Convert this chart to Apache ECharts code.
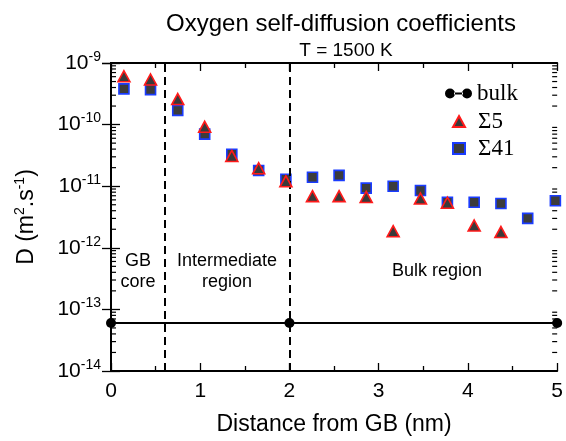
<!DOCTYPE html>
<html>
<head>
<meta charset="utf-8">
<script src="https://cdn.jsdelivr.net/npm/echarts@6/dist/echarts.min.js"></script>
<style>
  html, body { margin: 0; padding: 0; background: #fff; }
  #chart { width: 566px; height: 441px; }
</style>
</head>
<body>
<div id="chart"></div>
<script>
// Distance of each oxygen layer from the grain boundary plane (nm)
const distance = [0.145, 0.443, 0.748, 1.05, 1.354, 1.655, 1.96, 2.258, 2.556, 2.86,
                  3.162, 3.468, 3.77, 4.07, 4.37, 4.67, 4.98];
// Self-diffusion coefficients D (m^2/s) per layer
const sigma5 = [6.1e-10, 5.4e-10, 2.6e-10, 9.2e-11, 3.1e-11, 1.95e-11, 1.2e-11, 6.9e-12,
                6.9e-12, 6.7e-12, 1.86e-12, 6.3e-12, 5.4e-12, 2.3e-12, 1.8e-12, null, null];
const sigma41 = [3.8e-10, 3.7e-10, 1.7e-10, 7.0e-11, 3.3e-11, 1.8e-11, 1.3e-11, 1.4e-11,
                 1.5e-11, 9.3e-12, 1.0e-11, 8.5e-12, 5.5e-12, 5.5e-12, 5.25e-12, 3.0e-12, 5.8e-12];
// Bulk reference value
const bulkX = [0, 2, 5];
const bulkD = 6.0e-14;
// Region boundaries (nm)
const boundaries = [0.6, 2];
// Axis ranges
const xTicks = [0, 1, 2, 3, 4, 5];
const yMinExp = -14, yMaxExp = -9;

const SANS = '"Liberation Sans", Arial, Helvetica, sans-serif';
const SERIF = '"Liberation Serif", "Times New Roman", serif';

const pairs = (xs, ys) => xs.map((x, i) => [x, ys[i]]).filter(p => p[1] != null);

// log-axis minor tick positions (2..9 x 10^k)
const minorVals = [];
for (let e = yMinExp; e < yMaxExp; e++) {
  for (let m = 2; m <= 9; m++) minorVals.push([xTicks[0], m * Math.pow(10, e)]);
}

const chart = echarts.init(document.getElementById('chart'), null, { renderer: 'canvas' });

const axisLine = { show: true, lineStyle: { color: '#000', width: 2 } };
const xBase = {
  type: 'value', min: xTicks[0], max: xTicks[xTicks.length - 1], interval: 1,
  axisLine: axisLine,
  axisTick: { show: true, inside: true, length: 8, lineStyle: { color: '#000', width: 1.3 } },
  minorTick: { show: true, splitNumber: 2, length: 5, lineStyle: { color: '#000', width: 1.3 } },
  splitLine: { show: false }, minorSplitLine: { show: false }
};
const yBase = {
  type: 'log', logBase: 10, min: Math.pow(10, yMinExp), max: Math.pow(10, yMaxExp),
  axisLine: axisLine,
  axisTick: { show: true, inside: true, length: 9, lineStyle: { color: '#000', width: 1.3 } },
  splitLine: { show: false }
};

const legendText = {
  color: '#000',
  fontFamily: SERIF, fontSize: 23, lineHeight: 22
};

const option = {
  backgroundColor: '#fff',
  animation: false,
  title: [
    { text: 'Oxygen self-diffusion coefficients', left: 336, top: 7, textAlign: 'center',
      textStyle: { fontFamily: SANS, fontSize: 24, fontWeight: 'normal', color: '#000' } },
    { text: 'T = 1500 K', left: 341, top: 36, textAlign: 'center',
      textStyle: { fontFamily: SANS, fontSize: 19, fontWeight: 'normal', color: '#000' } }
  ],
  grid: { left: 111, right: 7, top: 63, bottom: 63, containLabel: false },
  legend: [
    {
      orient: 'vertical', left: 440, top: 77, itemWidth: 27, itemHeight: 10,
      selectedMode: false,
      data: [{ name: 'bulk', icon: 'path://M0,5a5,5 0 1,0 10,0a5,5 0 1,0 -10,0ZM17,5a5,5 0 1,0 10,0a5,5 0 1,0 -10,0ZM9,4L18,4L18,6L9,6Z' }],
      textStyle: legendText
    },
    {
      orient: 'vertical', left: 447, top: 105, itemGap: 4, itemWidth: 12, itemHeight: 11,
      selectedMode: false,
      data: ['Σ5', 'Σ41'],
      formatter: n => '{g|' + n + '}',
      textStyle: {
        color: '#000',
        rich: { g: Object.assign({}, legendText, { padding: [0, 0, 0, 8] }) }
      }
    }
  ],
  xAxis: [
    Object.assign({}, xBase, {
      position: 'bottom',
      axisLabel: { show: true, fontFamily: SANS, fontSize: 21, color: '#000', margin: 10 },
      name: 'Distance from GB (nm)', nameLocation: 'middle', nameGap: 42,
      nameTextStyle: { fontFamily: SANS, fontSize: 23, color: '#000' }
    }),
    Object.assign({}, xBase, { position: 'top', axisLabel: { show: false } })
  ],
  yAxis: [
    Object.assign({}, yBase, {
      position: 'left',
      axisLabel: {
        show: true, margin: 10,
        formatter: v => '{b|10}{e|' + Math.round(Math.log10(v)) + '}',
        rich: {
          b: { fontFamily: SANS, fontSize: 21, color: '#000' },
          e: { fontFamily: SANS, fontSize: 14, color: '#000', padding: [0, 0, 12, 0] }
        }
      },
      name: '{a|D (m}{s|2}{a|.s}{s|-1}{a|)}', nameLocation: 'middle', nameRotate: 90, nameGap: 70,
      nameTextStyle: {
        rich: {
          a: { fontFamily: SANS, fontSize: 23, color: '#000' },
          s: { fontFamily: SANS, fontSize: 14, color: '#000', padding: [0, 0, 14, 0] }
        }
      }
    }),
    Object.assign({}, yBase, { position: 'right', axisLabel: { show: false } })
  ],
  graphic: [
    { type: 'text', x: 138, y: 272, style: { text: 'GB\ncore', fontFamily: SANS, fontSize: 18, lineHeight: 21, fill: '#000', align: 'center', verticalAlign: 'middle' } },
    { type: 'text', x: 227, y: 272, style: { text: 'Intermediate\nregion', fontFamily: SANS, fontSize: 18, lineHeight: 21, fill: '#000', align: 'center', verticalAlign: 'middle' } },
    { type: 'text', x: 437, y: 271, style: { text: 'Bulk region', fontFamily: SANS, fontSize: 18, fill: '#000', align: 'center', verticalAlign: 'middle' } }
  ],
  series: [
    {
      name: 'bulk', type: 'line', data: bulkX.map(x => [x, bulkD]),
      symbol: 'circle', symbolSize: 10, clip: false, z: 3,
      itemStyle: { color: '#000' }, lineStyle: { color: '#000', width: 2 },
      markLine: {
        silent: true, symbol: 'none', label: { show: false },
        lineStyle: { color: '#000', width: 2, type: [8, 5] },
        data: boundaries.map(b => ({ xAxis: b }))
      }
    },
    {
      name: 'Σ41', type: 'scatter', data: pairs(distance, sigma41),
      symbol: 'rect', symbolSize: 10, z: 4,
      itemStyle: { color: '#3c3c3c', borderColor: '#1a3cff', borderWidth: 1.6, opacity: 1 }
    },
    {
      name: 'Σ5', type: 'scatter', data: pairs(distance, sigma5),
      symbol: 'triangle', symbolSize: [12, 11], z: 5,
      itemStyle: { color: '#3a3a3a', borderColor: '#ff1a1a', borderWidth: 1.6, opacity: 1 }
    },
    {
      name: 'minorTicks', type: 'custom', data: minorVals, silent: true, clip: false, z: 2,
      renderItem: (params, api) => {
        const v = api.value(1);
        const pl = api.coord([xTicks[0], v]);
        const pr = api.coord([xTicks[xTicks.length - 1], v]);
        const st = { stroke: '#000', lineWidth: 1.2 };
        return {
          type: 'group',
          children: [
            { type: 'line', shape: { x1: pl[0], y1: pl[1], x2: pl[0] + 5, y2: pl[1] }, style: st },
            { type: 'line', shape: { x1: pr[0] - 5, y1: pr[1], x2: pr[0], y2: pr[1] }, style: st }
          ]
        };
      }
    }
  ]
};

chart.setOption(option);
</script>
</body>
</html>
